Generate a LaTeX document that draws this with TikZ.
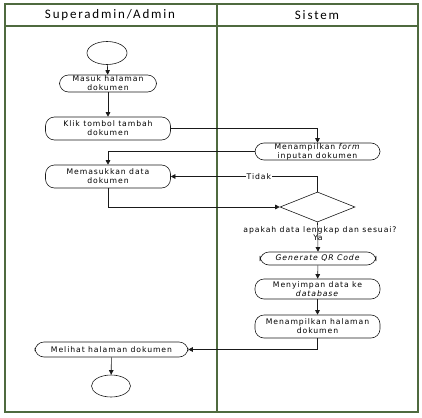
\documentclass[tikz,border=0pt]{standalone}
\usepackage{fontspec}
\setmainfont{DejaVu Sans}
\newfontfamily\headfont[LetterSpace=14]{Carlito}
\newfontfamily\nodefont[LetterSpace=12]{DejaVu Sans}
\usetikzlibrary{shapes.geometric,arrows.meta}
\definecolor{lanecol}{HTML}{4F6A3F}
\definecolor{linecol}{HTML}{1A1A1A}
\begin{document}
\begin{tikzpicture}[x=1pt,y=-1pt,
  lane/.style={draw=lanecol,line width=1.2pt},
  headtxt/.style={font=\headfont\fontsize{13}{15}\selectfont,inner sep=0pt},
  act/.style={draw=linecol,line width=0.6pt,rounded corners=9pt,inner sep=0pt,align=center,
    font=\nodefont\fontsize{7.7}{9}\selectfont},
  terminal/.style={draw=linecol,line width=0.6pt,ellipse,inner sep=0pt},
  decision/.style={draw=linecol,line width=0.6pt,diamond,inner sep=0pt,minimum width=75pt,minimum height=30pt},
  lbl/.style={font=\nodefont\fontsize{7.7}{9}\selectfont,inner sep=1pt},
  conn/.style={draw=linecol,line width=0.6pt},
  arr/.style={conn,-{Triangle[width=4.5pt,length=4.5pt]}}
]
\useasboundingbox (0,0) rectangle (422,417);
\fill[white] (0,0) rectangle (422,417);
% swimlanes
\draw[lane] (5,4) rectangle (418,412);
\draw[lane] (5,26) -- (418,26);
\draw[lane] (217,4) -- (217,412);
\node[headtxt] (h1) at (110,15) {Superadmin/Admin};
\node[headtxt] (h2) at (317,15) {Sistem};
% nodes
\node[terminal,minimum width=40pt,minimum height=23pt] (start) at (107,53) {};
\node[act,minimum width=97pt,minimum height=17pt] (n1) at (108,83.5) {Masuk halaman\\dokumen};
\node[act,minimum width=125pt,minimum height=23pt] (n2) at (108,128.5) {Klik tombol tambah\\dokumen};
\node[act,minimum width=125pt,minimum height=17pt] (n3) at (317.5,151.5) {Menampilkan \textit{form}\\inputan dokumen};
\node[act,minimum width=125pt,minimum height=23pt] (n4) at (108,176.5) {Memasukkan data\\dokumen};
\node[decision] (d) at (317.5,207) {};
\node[lbl] (q) at (320,230.5) {apakah data lengkap dan sesuai?};
\node[lbl] (ya) at (318,238) {Ya};
\node[act,minimum width=116pt,minimum height=13pt] (gen) at (318,258.5) {\textit{Generate QR Code}};
\node[act,minimum width=125pt,minimum height=20pt] (n5) at (317.5,289) {Menyimpan data ke\\\textit{database}};
\node[act,minimum width=125pt,minimum height=23pt] (n6) at (317.5,326.5) {Menampilkan halaman\\dokumen};
\node[act,minimum width=153pt,minimum height=15pt] (n7) at (111.5,349.5) {Melihat halaman dokumen};
\node[terminal,minimum width=39pt,minimum height=22pt] (end) at (111,386) {};
% connectors
\draw[arr] (start) -- (n1);
\draw[arr] (n1) -- (n2);
\draw[arr] (n2.east) -| (n3.north);
\draw[arr] (n3.west) -| (n4.north);
\draw[arr] (n4.south) |- (d.west);
\draw[arr] (d.north) |- node[pos=0.7,fill=white,lbl] (tidak) {Tidak} (n4.east);
\draw[arr] (d.south) -- (gen.north);
\draw[arr] (gen) -- (n5);
\draw[arr] (n5) -- (n6);
\draw[arr] (n6.south) |- (n7.east);
\draw[arr] (n7) -- (end);
\end{tikzpicture}
\end{document}
